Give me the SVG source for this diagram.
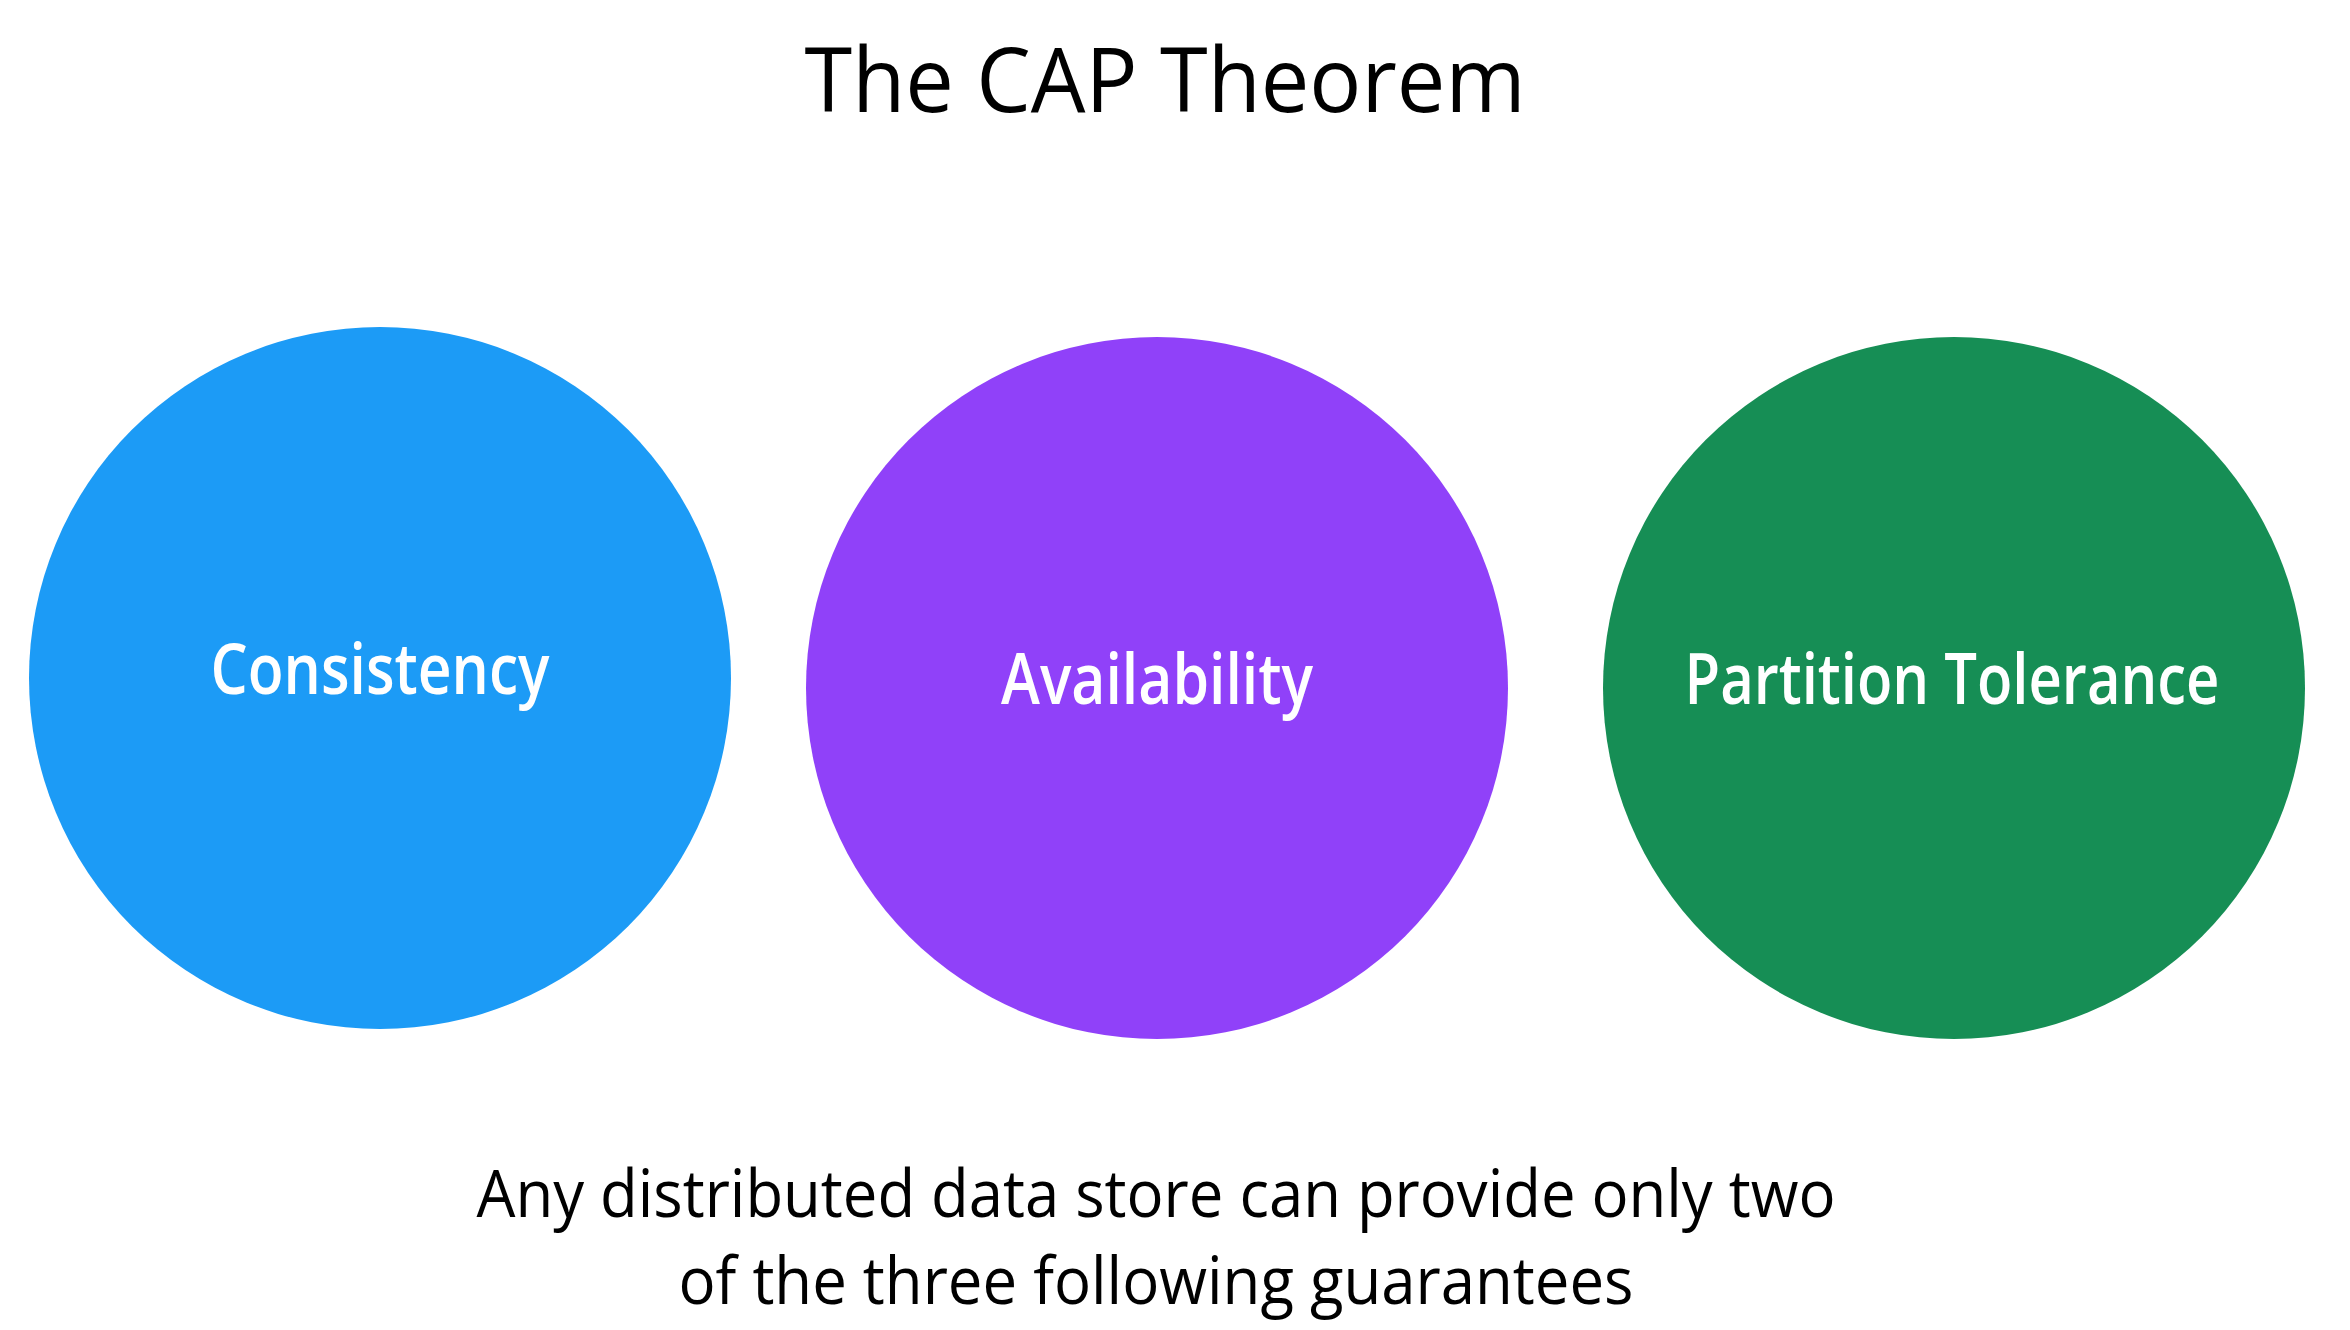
<svg xmlns="http://www.w3.org/2000/svg" width="2350" height="1330" viewBox="0 0 2350 1330">
<style>
.t{font-family:"Open Sans","Noto Sans","Liberation Sans",sans-serif;text-anchor:middle}
.title{font-size:90px;fill:#000;font-weight:500}
.lbl{font-size:70px;fill:#fff;font-weight:600}
.cap{font-size:65px;fill:#000;font-weight:500}
</style>
<rect width="2350" height="1330" fill="#fff"/>
<text class="t title" x="1165" y="112" textLength="721" lengthAdjust="spacingAndGlyphs">The CAP Theorem</text>
<g id="connectors"></g>
<g id="consistency">
<circle cx="380" cy="678" r="351" fill="#1C9BF6"/>
<text class="t lbl" x="380" y="694" textLength="339" lengthAdjust="spacingAndGlyphs">Consistency</text>
</g>
<g id="availability">
<circle cx="1157" cy="688" r="351" fill="#9041F9"/>
<text class="t lbl" x="1157" y="704" textLength="312" lengthAdjust="spacingAndGlyphs">Availability</text>
</g>
<g id="partition">
<circle cx="1954" cy="688" r="351" fill="#168E55"/>
<text class="t lbl" x="1952" y="704" textLength="535" lengthAdjust="spacingAndGlyphs">Partition Tolerance</text>
</g>
<text class="t cap" x="1156" y="1217" textLength="1359" lengthAdjust="spacingAndGlyphs">Any distributed data store can provide only two</text>
<text class="t cap" x="1156" y="1304" textLength="955" lengthAdjust="spacingAndGlyphs">of the three following guarantees</text>
</svg>
